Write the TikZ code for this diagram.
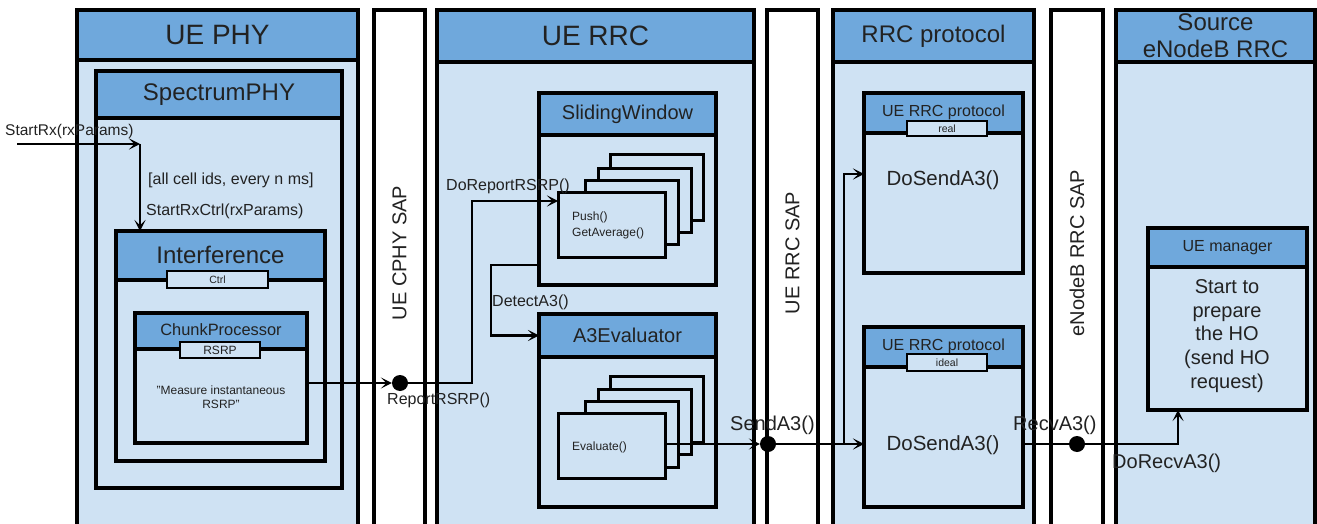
\documentclass[tikz,border=0pt]{standalone}
\usepackage{fontspec}
\setmainfont{Liberation Sans}
\usetikzlibrary{fit,arrows.meta,calc}
\definecolor{headblue}{HTML}{6FA8DC}
\definecolor{bodyblue}{HTML}{CFE2F3}
\definecolor{ink}{HTML}{222222}
\newcommand{\fs}[1]{\fontsize{#1}{#1}\selectfont}

\tikzset{
  frame/.style={draw=black, line width=3.2pt, inner sep=0pt, outer sep=0pt, text=ink},
  body/.style={frame, fill=bodyblue},
  head/.style={frame, fill=headblue},
  sapbox/.style={frame, fill=white},
  port/.style={frame, line width=2.6pt, fill=bodyblue},
  page/.style={frame, line width=3pt, fill=bodyblue},
  title/.style={inner sep=0pt, text=ink, align=center},
  wire/.style={draw=black, line width=2.2pt},
  arr/.style={wire, -{Stealth[length=11pt,width=11pt,inset=5.5pt]}},
  dot/.style={circle, fill=black, minimum size=16pt, inner sep=0pt},
  saptext/.style={rotate=90, inner sep=0pt, text=ink, font=\fs{20}},
  lbl/.style={anchor=west, inner sep=0pt, text=ink, font=\fs{16}},
  biglbl/.style={lbl, font=\fs{20}},
  small/.style={anchor=west, inner sep=0pt, text=ink, font=\fs{12}},
}

\begin{document}
\begin{tikzpicture}[x=1pt,y=-1pt]
\useasboundingbox (0,0) rectangle (1317,524);
\clip (0,0) rectangle (1317,524);

% ---------- columns ----------
\node[body, fit={(77,10)(358,540)}] (phy) {};
\node[head, fit={(77,10)(358,60)}] (phyH) {};
\node[title, font=\fs{28}] (phyT) at (phyH.center) {UE PHY};

\node[sapbox, fit={(374,10)(425,540)}] (cphy) {};
\node[saptext] (cphyL) at (399.5,253) {UE CPHY SAP};

\node[body, fit={(437,10)(754,540)}] (rrc) {};
\node[head, fit={(437,10)(754,62)}] (rrcH) {};
\node[title, font=\fs{28}] (rrcT) at (rrcH.center) {UE RRC};

\node[sapbox, fit={(767,10)(818,540)}] (rsap) {};
\node[saptext] (rsapL) at (792.5,253) {UE RRC SAP};

\node[body, fit={(833,10)(1034,540)}] (proto) {};
\node[head, fit={(833,10)(1034,62)}] (protoH) {};
\node[title, font=\fs{24}] (protoT) at (protoH.center) {RRC protocol};

\node[sapbox, fit={(1051,10)(1103,540)}] (esap) {};
\node[saptext] (esapL) at (1077,253) {eNodeB RRC SAP};

\node[body, fit={(1116,10)(1315,540)}] (enb) {};
\node[head, fit={(1116,10)(1315,62)}] (enbH) {};
\node[title, font=\fontsize{24}{27}\selectfont] (enbT) at (enbH.center) {Source\\eNodeB RRC};

% ---------- UE PHY internals ----------
\node[body, fit={(96,71)(342,488)}] (spec) {};
\node[head, fit={(96,71)(342,118)}] (specH) {};
\node[title, font=\fs{24}] (specT) at (specH.center) {SpectrumPHY};

\node[body, fit={(116,231)(325,461)}] (interf) {};
\node[head, fit={(116,231)(325,280)}] (interfH) {};
\node[title, font=\fs{24}] (interfT) at ($(interfH.center)+(0,-1)$) {Interference};
\node[port, fit={(167,271)(268,288)}] (ctrlPort) {};
\node[title, font=\fs{10.5}] (ctrlT) at (ctrlPort.center) {Ctrl};

\node[body, fit={(135,313)(307,443)}] (chunk) {};
\node[head, fit={(135,313)(307,349)}] (chunkH) {};
\node[title, font=\fs{16.4}] (chunkT) at ($(chunkH.center)+(0,-1)$) {ChunkProcessor};
\node[port, fit={(180,342)(260,358)}] (rsrpPort) {};
\node[title, font=\fs{12}] (rsrpT) at (rsrpPort.center) {RSRP};
\node[title, font=\fontsize{12}{14}\selectfont] (measTxt) at (221,397) {"Measure instantaneous\\RSRP"};

% ---------- UE RRC internals ----------
\node[body, fit={(539,93)(716,285)}] (sw) {};
\node[head, fit={(539,93)(716,135)}] (swH) {};
\node[title, font=\fs{20}] (swT) at (swH.center) {SlidingWindow};
\node[page, fit={(610,155)(703,220)}] (swP4) {};
\node[page, fit={(598,168)(691,232)}] (swP3) {};
\node[page, fit={(585,180)(678,244)}] (swP2) {};
\node[page, fit={(558,192)(665,257)}] (swF) {};
\node[small] (pushTxt) at (572,217) {Push()};
\node[small] (avgTxt) at (572,233) {GetAverage()};

\node[body, fit={(539,314)(716,507)}] (a3) {};
\node[head, fit={(539,314)(716,357)}] (a3H) {};
\node[title, font=\fs{20}] (a3T) at (a3H.center) {A3Evaluator};
\node[page, fit={(610,376)(703,442)}] (evP4) {};
\node[page, fit={(598,389)(691,454)}] (evP3) {};
\node[page, fit={(585,401)(678,467)}] (evP2) {};
\node[page, fit={(558,413)(665,478)}] (evF) {};
\node[small] (evalTxt) at (572,447) {Evaluate()};

% ---------- RRC protocol internals ----------
\node[body, fit={(864,93)(1023,273)}] (real) {};
\node[head, fit={(864,93)(1023,133)}] (realH) {};
\node[title, font=\fs{16}] (realT) at ($(realH.center)+(0,-1)$) {UE RRC protocol};
\node[port, fit={(907,121)(987,136)}] (realPort) {};
\node[title, font=\fs{10.5}] (realPT) at (realPort.center) {real};
\node[title, font=\fs{20.5}] (realTxt) at (943,180) {DoSendA3()};

\node[body, fit={(864,327)(1023,507)}] (ideal) {};
\node[head, fit={(864,327)(1023,367)}] (idealH) {};
\node[title, font=\fs{16}] (idealT) at ($(idealH.center)+(0,-1)$) {UE RRC protocol};
\node[port, fit={(907,354)(987,371)}] (idealPort) {};
\node[title, font=\fs{10.5}] (idealPT) at (idealPort.center) {ideal};
\node[title, font=\fs{20.5}] (idealTxt) at (943,445) {DoSendA3()};

% ---------- eNodeB internals ----------
\node[body, fit={(1148,228)(1307,410)}] (mgr) {};
\node[head, fit={(1148,228)(1307,267)}] (mgrH) {};
\node[title, font=\fs{16}] (mgrT) at (mgrH.center) {UE manager};
\node[title, font=\fontsize{20}{23.7}\selectfont] (hoTxt) at (1227,336) {Start to\\prepare\\the HO\\(send HO\\request)};

% ---------- connectors ----------
\coordinate (srIn) at (17,144);
\coordinate (srBend) at (140,144);
\draw[arr] (srIn) -- (srBend);
\draw[arr] (srBend) -- (srBend |- interfH.north);

\node[dot] (d1) at (400,383) {};
\draw[arr] (chunk.east |- d1) -- (d1);
\coordinate (rrBend) at (472,201);
\draw[arr] (d1) -| (rrBend) -- (rrBend -| swF.west);

\coordinate (daBend) at (491,265);
\draw[arr] (daBend -| sw.west) -- (daBend) |- (a3H.west);

\node[dot] (d2) at (768,444) {};
\draw[arr] (evF.east |- d2) -- (d2);
\coordinate (saBend) at (844,444);
\draw[arr] (d2) -- (ideal.west |- d2);
\draw[arr] (saBend) |- (real.west |- 0,174);

\node[dot] (d3) at (1077,444) {};
\draw[wire] (ideal.east |- d3) -- (d3);
\coordinate (raBend) at (1178,444);
\draw[arr] (d3) -- (raBend) -- (raBend |- mgr.south);

% ---------- connector labels ----------
\node[lbl, font=\fs{15.5}] (lStartRx) at (5,131) {StartRx(rxParams)};
\node[lbl] (lAll) at (148,180) {[all cell ids, every n ms]};
\node[lbl] (lRxCtrl) at (146,211) {StartRxCtrl(rxParams)};
\node[lbl] (lRep) at (387,400) {ReportRSRP()};
\node[lbl] (lDoRep) at (446,186) {DoReportRSRP()};
\node[lbl] (lDet) at (492,302) {DetectA3()};
\node[biglbl] (lSend) at (730,425) {SendA3()};
\node[biglbl] (lRecv) at (1013,425) {RecvA3()};
\node[biglbl] (lDoRecv) at (1112,463) {DoRecvA3()};
\end{tikzpicture}
\end{document}
